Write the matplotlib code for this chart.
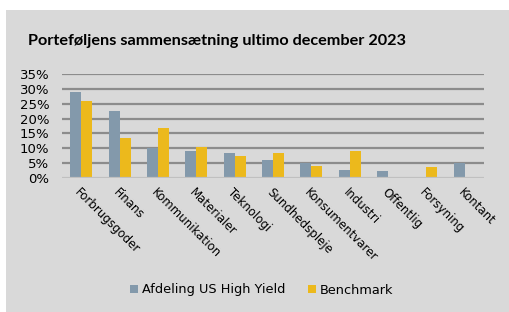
import matplotlib
matplotlib.use("Agg")
import matplotlib.pyplot as plt
import numpy as np
from matplotlib.patches import Rectangle

categories = ["Forbrugsgoder", "Finans", "Kommunikation", "Materialer", "Teknologi",
              "Sundhedspleje", "Konsumentvarer", "Industri", "Offentlig", "Forsyning", "Kontant"]
afdeling = [29.1, 22.5, 10.0, 8.9, 8.3, 6.0, 5.0, 2.6, 2.3, 0.2, 5.0]
benchmark = [26.1, 13.4, 16.9, 10.3, 7.4, 8.4, 3.9, 9.0, 0.0, 3.6, 0.0]
yticks = [0, 5, 10, 15, 20, 25, 30, 35]

blue = "#8399ab"
yellow = "#ecb91c"
bg = "#d9d9d9"

fig = plt.figure(figsize=(5.1, 3.12), dpi=100, facecolor=bg)
# white strips at top and left, the rest of the canvas is the grey panel
fig.patches.append(Rectangle((0, 1 - 10 / 312), 1, 10 / 312, transform=fig.transFigure,
                             facecolor="white", edgecolor="none", zorder=-1))
fig.patches.append(Rectangle((0, 0), 6 / 510, 1, transform=fig.transFigure,
                             facecolor="white", edgecolor="none", zorder=-1))

ax = fig.add_axes([62 / 510, 1 - 177.7 / 312, (484 - 62) / 510, (177.7 - 74.3) / 312])
ax.set_facecolor(bg)
x = np.arange(len(categories))
w = 0.287
ax.bar(x - w / 2, afdeling, w, color=blue, label="Afdeling US High Yield", zorder=3)
ax.bar(x + w / 2, benchmark, w, color=yellow, label="Benchmark", zorder=3)

ax.set_xlim(-0.5, len(categories) - 0.5)
ax.set_ylim(0, 35)
ax.set_yticks(yticks)
ax.set_yticklabels([f"{v}%" for v in yticks], fontsize=9.5)
for v in yticks[1:]:
    ax.axhline(v, color="#8c8c8c", lw=1.6, zorder=1)
ax.axhline(0, color="#c0c0c0", lw=1.6, zorder=4)
for s in ax.spines.values():
    s.set_visible(False)
ax.tick_params(axis="y", length=0, pad=9)
ax.tick_params(axis="x", length=0, pad=6)
ax.set_xticks(x)
ax.set_xticklabels(categories, rotation=-45, ha="left", va="top",
                   rotation_mode="anchor", fontsize=8.5)

fig.text(28 / 510, 1 - 41 / 312, "Porteføljens sammensætning ultimo december 2023",
         fontsize=11.7, fontweight="bold", family="Lato", va="center", ha="left")

fig.legend(loc="center", bbox_to_anchor=(0.513, 1 - 290 / 312), ncol=2, frameon=False,
           fontsize=9.3, handlelength=0.6, handleheight=0.6, handletextpad=0.3,
           columnspacing=1.8)

fig.savefig("out.png", dpi=100, facecolor=bg)
